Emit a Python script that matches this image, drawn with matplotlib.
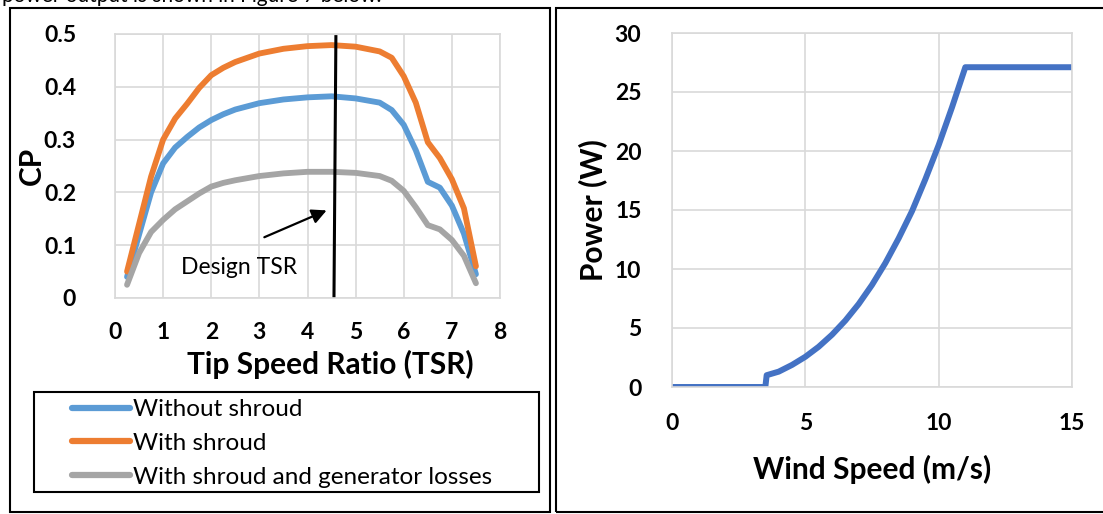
import matplotlib
matplotlib.use("Agg")
import matplotlib.pyplot as plt
from matplotlib.patches import Rectangle

plt.rcParams['font.family'] = ['Lato', 'DejaVu Sans']

# ── Left chart: power coefficient vs tip speed ratio ────────────────────────
tsr = [0.25, 0.5, 0.75, 1.0, 1.25, 1.5, 1.75, 2.0, 2.25, 2.5, 3.0, 3.5, 4.0, 4.5,
       5.0, 5.5, 5.75, 6.0, 6.25, 6.5, 6.75, 7.0, 7.25, 7.5]
cp_no_shroud = [0.04, 0.12, 0.20, 0.255, 0.285, 0.305, 0.323, 0.337, 0.348, 0.357, 0.369, 0.376,
                0.380, 0.382, 0.378, 0.370, 0.356, 0.328, 0.280, 0.220, 0.209, 0.175, 0.122, 0.045]
cp_shroud = [0.05, 0.14, 0.23, 0.300, 0.340, 0.368, 0.398, 0.422, 0.436, 0.447, 0.463, 0.472,
             0.477, 0.479, 0.476, 0.467, 0.455, 0.420, 0.370, 0.295, 0.265, 0.225, 0.170, 0.060]
cp_gen_losses = [0.025, 0.085, 0.125, 0.148, 0.168, 0.183, 0.198, 0.211, 0.218, 0.223, 0.231, 0.236,
                 0.239, 0.239, 0.237, 0.231, 0.222, 0.203, 0.172, 0.138, 0.130, 0.110, 0.080, 0.028]
series_labels = ["Without shroud", "With shroud", "With shroud and generator losses"]
series_colors = ['#5B9BD5', '#ED7D31', '#A5A5A5']

design_line_x = [4.59, 4.55]
design_line_y = [0.495, 0.0]

# ── Right chart: power curve ────────────────────────────────────────────────
wind_speed = [0, 3.5, 3.55, 4.0, 4.5, 5.0, 5.5, 6.0, 6.5, 7.0, 7.5, 8.0,
              8.5, 9.0, 9.5, 10.0, 10.5, 11.0, 15.0]
power_w = [0, 0, 1.0, 1.3, 1.87, 2.56, 3.41, 4.43, 5.63, 7.03, 8.65, 10.5,
           12.6, 14.9, 17.6, 20.5, 23.7, 27.1, 27.1]

W, H = 1103, 514
LABEL_FS = 21.5
TICK_FS = 16.5
fig = plt.figure(figsize=(W / 100, H / 100), dpi=100)


def px_axes(x0, y0, x1, y1):
    # pixel box (top-left origin) -> figure axes
    return fig.add_axes([x0 / W, 1 - y1 / H, (x1 - x0) / W, (y1 - y0) / H])


def style(ax):
    ax.grid(True, color='#D9D9D9', lw=1.2)
    ax.set_axisbelow(True)
    for s in ax.spines.values():
        s.set_color('#D9D9D9')
        s.set_linewidth(1.2)
    ax.tick_params(length=0)


# panel frames
fig.patches.append(Rectangle((9.5 / W, 1 - 512 / H), 540.5 / W, 504.5 / H,
                             transform=fig.transFigure, fill=False, ec='black', lw=1.5))
fig.patches.append(Rectangle((555.5 / W, 1 - 512 / H), 560 / W, 504.5 / H,
                             transform=fig.transFigure, fill=False, ec='black', lw=1.5))
# caption of the page above, cut off by the screenshot
fig.text(2 / W, 1 - 1.5 / H, "power output is shown in Figure 7 below.", fontsize=15, va='baseline')

ax1 = px_axes(115, 34, 500, 298)
for vals, col, lab in zip([cp_no_shroud, cp_shroud, cp_gen_losses], series_colors, series_labels):
    ax1.plot(tsr, vals, color=col, lw=4.2, solid_capstyle='round',
             solid_joinstyle='round', label=lab)
ax1.plot(design_line_x, design_line_y, color='black', lw=2.2)
ax1.annotate('', xy=(4.45, 0.168), xytext=(3.05, 0.113),
             arrowprops=dict(arrowstyle='-|>', color='black', lw=1.6, mutation_scale=22))
ax1.text(2.58, 0.057, "Design TSR", ha='center', va='center', fontsize=16.5)
ax1.set_xlim(0, 8)
ax1.set_ylim(0, 0.5)
ax1.set_xticks(range(0, 9), labels=[str(v) for v in range(0, 9)], fontsize=TICK_FS, fontweight='bold')
ax1.set_yticks([0, 0.1, 0.2, 0.3, 0.4, 0.5], labels=['0', '0.1', '0.2', '0.3', '0.4', '0.5'],
               fontsize=TICK_FS, fontweight='bold')
style(ax1)
ax1.tick_params(axis='x', pad=17)
ax1.tick_params(axis='y', pad=28)
ax1.set_xlabel("Tip Speed Ratio (TSR)", fontsize=LABEL_FS, fontweight='bold', labelpad=5)
ax1.xaxis.label.set_x(0.558)
ax1.set_ylabel("CP", fontsize=LABEL_FS, fontweight='bold')
ax1.yaxis.set_label_coords(-0.18, 0.5)

# legend box drawn separately so the inner padding can match
fig.patches.append(Rectangle((34 / W, 1 - 492 / H), 505 / W, 100 / H,
                             transform=fig.transFigure, fill=False, ec='black', lw=1.5))
leg = fig.legend(loc='upper left', bbox_to_anchor=(72 / W, 1 - 399 / H),
                 fontsize=17.5, frameon=False, handlelength=2.4, handletextpad=0.1,
                 borderaxespad=0, labelspacing=0.53, borderpad=0)
for line in leg.get_lines():
    line.set_linewidth(4.5)
    line.set_solid_capstyle('round')

ax2 = px_axes(672, 33, 1072, 387)
ax2.plot(wind_speed, power_w, color='#4472C4', lw=4.3, solid_joinstyle='round')
ax2.set_xlim(0, 15)
ax2.set_ylim(0, 30)
ax2.set_xticks([0, 5, 10, 15], labels=['0', '5', '10', '15'], fontsize=TICK_FS, fontweight='bold')
ax2.set_yticks(range(0, 31, 5), labels=[str(v) for v in range(0, 31, 5)],
               fontsize=TICK_FS, fontweight='bold')
style(ax2)
ax2.tick_params(axis='x', pad=19)
ax2.tick_params(axis='y', pad=22)
ax2.set_xlabel("Wind Speed (m/s)", fontsize=LABEL_FS, fontweight='bold', labelpad=15)
ax2.set_ylabel("Power (W)", fontsize=LABEL_FS, fontweight='bold')
ax2.yaxis.set_label_coords(-0.1625, 0.5)

fig.savefig("out.png", dpi=100)
